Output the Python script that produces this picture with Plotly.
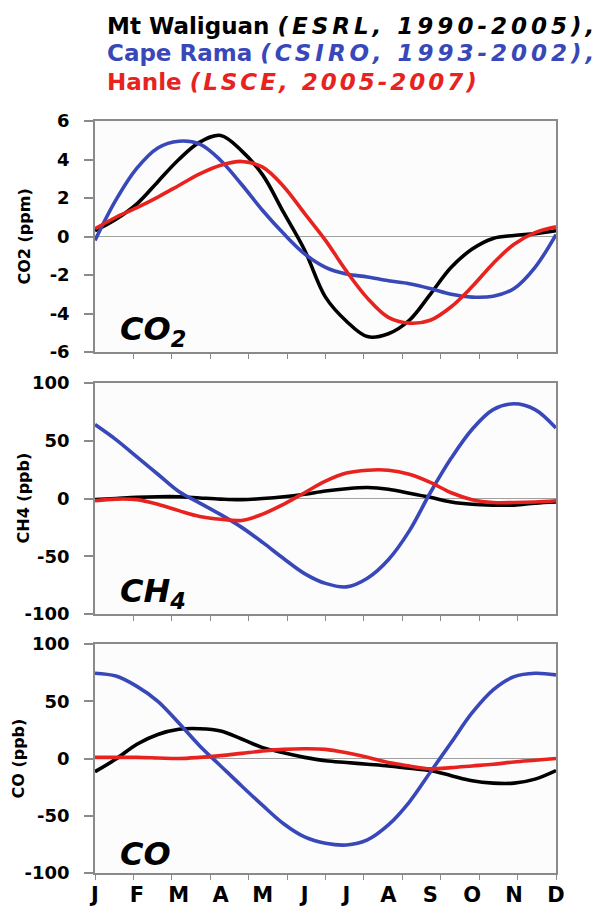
import plotly.graph_objects as go

# ---------------- data ----------------
month_labels = ["J", "F", "M", "A", "M", "J", "J", "A", "S", "O", "N", "D"]
month_index = list(range(12))
# sample positions in months (0 = Jan ... 11 = Dec)
t = [0, 0.5, 1, 1.5, 2, 2.5, 3, 3.5, 4, 4.5, 5, 5.5,
     6, 6.5, 7, 7.5, 8, 8.5, 9, 9.5, 10, 10.5, 11]

series_names = ["Mt Waliguan", "Cape Rama", "Hanle"]

co2_waliguan = [0.3, 0.9, 1.7, 2.85, 4.0, 4.9, 5.25, 4.45, 3.2, 1.25, -0.7, -3.15,
                -4.4, -5.2, -5.05, -4.35, -3.0, -1.6, -0.65, -0.1, 0.05, 0.15, 0.3]
co2_rama = [-0.2, 1.9, 3.55, 4.6, 4.95, 4.8, 3.95, 2.7, 1.35, 0.15, -0.9, -1.6,
            -1.95, -2.1, -2.3, -2.45, -2.7, -3.0, -3.15, -3.1, -2.7, -1.6, 0.1]
co2_hanle = [0.4, 1.0, 1.5, 2.05, 2.65, 3.25, 3.7, 3.9, 3.6, 2.6, 1.2, -0.2,
             -1.8, -3.2, -4.2, -4.5, -4.35, -3.65, -2.6, -1.4, -0.4, 0.2, 0.5]

ch4_waliguan = [-1, 0, 1, 1.5, 1.5, 0.5, -0.5, -1, 0, 1.5, 3.7, 6.5,
                8.5, 9.5, 8, 4.6, 1, -3, -5, -5.7, -5.7, -4, -3]
ch4_rama = [64, 51, 36, 21, 6, -4, -14, -25, -38, -52, -65, -73.5,
            -76.5, -69, -53, -28, 5, 35, 60, 77, 82, 77, 61]
ch4_hanle = [-2, -0.5, -1, -5, -10.5, -15.5, -18, -19, -13.5, -5, 5, 15,
             22, 24.5, 24.5, 21, 14, 5, -1, -3.5, -3.5, -3, -2]

co_waliguan = [-11.5, -0.5, 12.5, 21, 25.5, 26, 24, 17, 9.5, 5, 1, -2,
               -3.5, -5, -6.5, -8.5, -10.5, -15, -19.5, -21.5, -21.5, -18, -10.5]
co_rama = [74.5, 72, 63, 50, 31, 11, -6.5, -24, -41, -57, -68.5, -74,
           -75.5, -71, -58, -38, -12, 14, 40, 60, 71.5, 74.5, 73]
co_hanle = [1, 1, 1, 0.5, 0, 1, 2.5, 4.5, 6.5, 8, 8.5, 8,
            5, 1, -3.5, -6.5, -9, -8, -6.5, -5, -3, -1.5, 0]

co2_ticks = [-6, -4, -2, 0, 2, 4, 6]
co2_ticktext = ["-6", "-4", "-2", "0", "2", "4", "6"]
ppb_ticks = [-100, -50, 0, 50, 100]
ppb_ticktext = ["-100", "-50", "0", "50", "100"]

legend_lines = [
    ("Mt Waliguan", "(ESRL, 1990-2005),"),
    ("Cape Rama", "(CSIRO, 1993-2002),"),
    ("Hanle", "(LSCE, 2005-2007)"),
]

# ---------------- styling ----------------
colors = ["#000000", "#3848b8", "#e8231f"]
FONT = "DejaVu Sans"
GRAY = "#8a8a8a"
L, R, T, B, W, H = 95, 46, 121, 36, 602, 909
PW = W - L - R

panels = [
    dict(vals=[co2_waliguan, co2_rama, co2_hanle], rng=[-6, 6],
         tv=co2_ticks, tt=co2_ticktext, title_x=25,
         title="CO2 (ppm)", label="CO<sub>2</sub>", domain=[0.6928, 1.0]),
    dict(vals=[ch4_waliguan, ch4_rama, ch4_hanle], rng=[-100, 100],
         tv=ppb_ticks, tt=ppb_ticktext, title_x=24,
         title="CH4 (ppb)", label="CH<sub>4</sub>", domain=[0.3444, 0.6516]),
    dict(vals=[co_waliguan, co_rama, co_hanle], rng=[-100, 100],
         tv=ppb_ticks, tt=ppb_ticktext, title_x=19,
         title="CO (ppb)", label="CO", domain=[0.0, 0.3045]),
]

fig = go.Figure()
layout = dict(
    width=W, height=H,
    margin=dict(l=L, r=R, t=T, b=B),
    paper_bgcolor="white", plot_bgcolor="#fcfcfc",
    showlegend=False,
    font=dict(family=FONT, color="black"),
)

annotations = []
for i, p in enumerate(panels):
    n = i + 1
    xa = "x" if n == 1 else f"x{n}"
    ya = "y" if n == 1 else f"y{n}"
    for s, vals in enumerate(p["vals"]):
        fig.add_trace(go.Scatter(
            x=t, y=vals, xaxis=xa, yaxis=ya, mode="lines",
            name=series_names[s],
            line=dict(color=colors[s], width=3.6, shape="spline", smoothing=1.0),
        ))
    xkey = "xaxis" if n == 1 else f"xaxis{n}"
    ykey = "yaxis" if n == 1 else f"yaxis{n}"
    xdict = dict(
        anchor=ya, domain=[0, 1], range=[0, 11], automargin=False,
        ticks="",
        minor=dict(tickmode="linear", tick0=0, dtick=11 / 12, ticks="outside",
                   ticklen=5, tickwidth=1.2, tickcolor=GRAY, showgrid=False),
        showline=True, mirror=True, linecolor=GRAY, linewidth=1.5,
        showgrid=False, zeroline=False,
    )
    if n == 3:
        xdict.update(tickmode="array", tickvals=month_index, ticktext=month_labels,
                     showticklabels=True, ticklabelstandoff=2,
                     tickfont=dict(family=FONT, size=21, weight="bold"))
    else:
        xdict.update(tickmode="linear", tick0=0, dtick=1, showticklabels=False)
    layout[xkey] = xdict
    layout[ykey] = dict(
        anchor=xa, domain=p["domain"], range=p["rng"], automargin=False,
        tickmode="array", tickvals=p["tv"], ticktext=p["tt"],
        ticks="outside", ticklen=9, tickwidth=1.5, tickcolor=GRAY,
        tickfont=dict(family=FONT, size=18, weight="bold"),
        ticklabelstandoff=11,
        showline=True, mirror=True, linecolor=GRAY, linewidth=1.5,
        showgrid=False, zeroline=True, zerolinecolor="#a0a0a0", zerolinewidth=1,
    )
    # axis title (placed as rotated text left of the tick labels)
    annotations.append(dict(
        xref="paper", yref=f"{ya} domain",
        x=(p["title_x"] - L) / PW, y=0.5,
        xanchor="center", yanchor="middle", textangle=-90, showarrow=False,
        text=f"<b>{p['title']}</b>",
        font=dict(family=FONT, size=16, color="black"),
    ))
    annotations.append(dict(
        xref=f"{xa} domain", yref=f"{ya} domain", x=0.05, y=-0.01,
        xanchor="left", yanchor="bottom", showarrow=False,
        text=f"<b><i>{p['label']}</i></b>",
        font=dict(family=FONT, size=32, color="black"),
    ))

line_y = [1.1263, 1.0904, 1.0519]
spacing = [4, 4, 3]
for k, (plain, ital) in enumerate(legend_lines):
    annotations.append(dict(
        xref="paper", yref="paper", x=0.022, y=line_y[k],
        xanchor="left", yanchor="middle", showarrow=False,
        text=(f"<b>{plain} <i><span style='letter-spacing:{spacing[k]}px'>"
              f"{ital}</span></i></b>"),
        font=dict(family=FONT, size=23, color=colors[k]),
    ))

layout["annotations"] = annotations
fig.update_layout(**layout)
fig.write_html("out.html")
